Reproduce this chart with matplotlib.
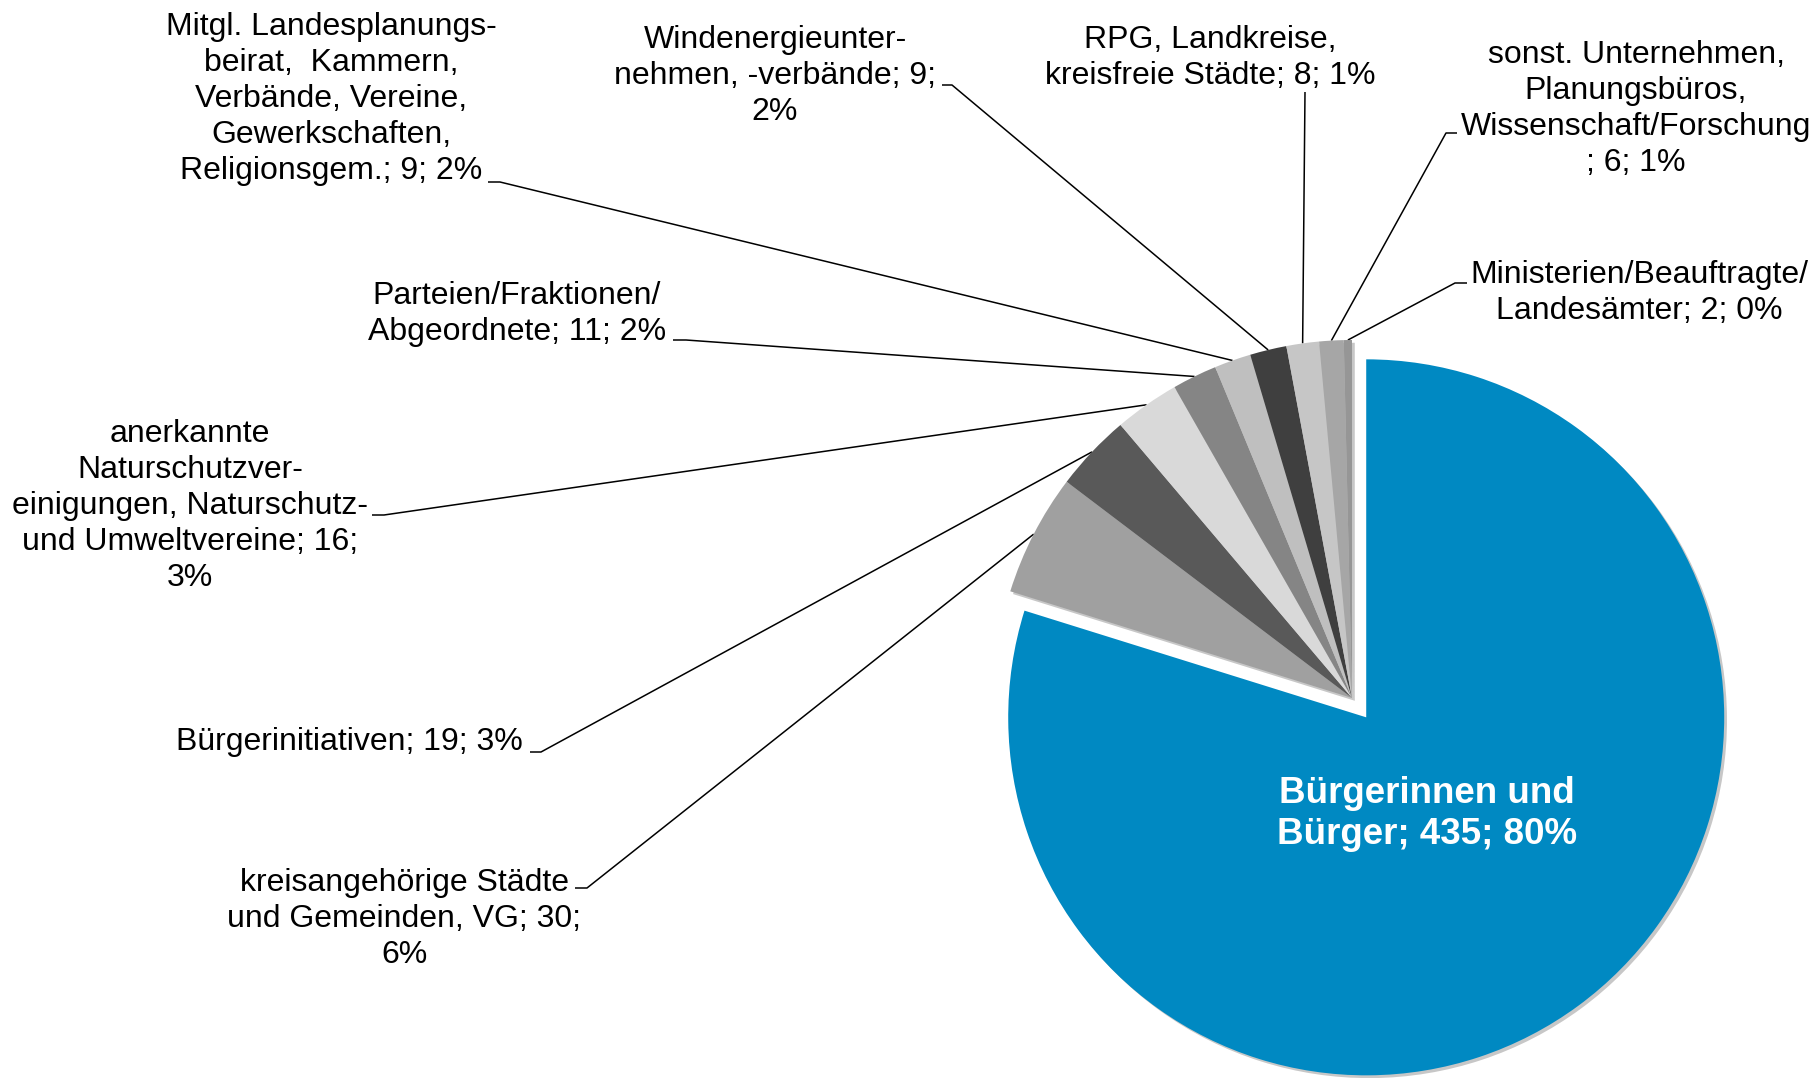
import numpy as np
import matplotlib.pyplot as plt

plt.rcParams['font.family'] = ['Liberation Sans', 'DejaVu Sans']

# --- data -------------------------------------------------------------
values = [435, 30, 19, 16, 11, 9, 9, 8, 6, 2]
label_texts = [
    "Bürgerinnen und\nBürger; 435; 80%",
    "kreisangehörige Städte\nund Gemeinden, VG; 30;\n6%",
    "Bürgerinitiativen; 19; 3%",
    "anerkannte\nNaturschutzver-\neinigungen, Naturschutz-\nund Umweltvereine; 16;\n3%",
    "Parteien/Fraktionen/\nAbgeordnete; 11; 2%",
    "Mitgl. Landesplanungs-\nbeirat,  Kammern,\nVerbände, Vereine,\nGewerkschaften,\nReligionsgem.; 9; 2%",
    "Windenergieunter-\nnehmen, -verbände; 9;\n2%",
    "RPG, Landkreise,\nkreisfreie Städte; 8; 1%",
    "sonst. Unternehmen,\nPlanungsbüros,\nWissenschaft/Forschung\n; 6; 1%",
    "Ministerien/Beauftragte/\nLandesämter; 2; 0%",
]
colors = ['#0089C2', '#a0a0a0', '#595959', '#d9d9d9', '#858585',
          '#bfbfbf', '#3f3f3f', '#c6c6c6', '#a6a6a6', '#969696']

# --- layout (pixel coords, y measured from the top) -------------------
W, H = 1819, 1078
pie_center = (1352, 698)
pie_radius = 358
explode = [24] + [0] * 9   # pie() takes the offset in data units

# text centre x, y, horizontal alignment
text_pos = [
    (1427, 814, 'center'),
    (404, 919, 'center'),
    (523, 742, 'right'),
    (190, 506, 'center'),
    (517, 314, 'center'),
    (331, 99, 'center'),
    (775, 76, 'center'),
    (1210, 58, 'center'),
    (1636, 109, 'center'),
    (1639, 293, 'center'),
]
# leader line: start point near the label, short horizontal tick end x
leader = [
    None,
    (575, 888, 587),
    (530, 752, 541),
    (372, 515, 384),
    (673, 340, 686),
    (488, 182, 500),
    (942, 85, 952),
    (1305, 92, 1305),
    (1457, 133, 1446),
    (1467, 283, 1455),
]


def fy(y):
    return H - y


fig = plt.figure(figsize=(W / 100, H / 100), dpi=100)
ax = fig.add_axes([0, 0, 1, 1])

wedges, _ = ax.pie(values, colors=colors, startangle=90, counterclock=False,
                   explode=explode, radius=pie_radius,
                   center=(pie_center[0], fy(pie_center[1])),
                   wedgeprops=dict(linewidth=0),
                   shadow=dict(ox=2, oy=-2, facecolor='#000000',
                               edgecolor='none', alpha=0.22))

ax.set_xlim(0, W)
ax.set_ylim(0, H)
ax.set_aspect('equal')
ax.axis('off')

for i, (w, txt) in enumerate(zip(wedges, label_texts)):
    x, y, ha = text_pos[i]
    if i == 0:
        ax.text(x, fy(y), txt, ha='center', va='center', color='white',
                fontsize=26.5, fontweight='bold', linespacing=1.24)
        continue
    ax.text(x, fy(y), txt, ha=ha, va='center', multialignment='center',
            color='black', fontsize=23, linespacing=1.27)
    # anchor on the outer arc at the middle of the wedge
    mid = np.deg2rad((w.theta1 + w.theta2) / 2)
    ax_, ay_ = w.center[0] + w.r * np.cos(mid), w.center[1] + w.r * np.sin(mid)
    sx, sy, tx = leader[i]
    ax.plot([sx, tx, ax_], [fy(sy), fy(sy), ay_], color='black', lw=1.1,
            solid_capstyle='butt', zorder=0.5)

fig.savefig('out.png', dpi=100, facecolor='white')
